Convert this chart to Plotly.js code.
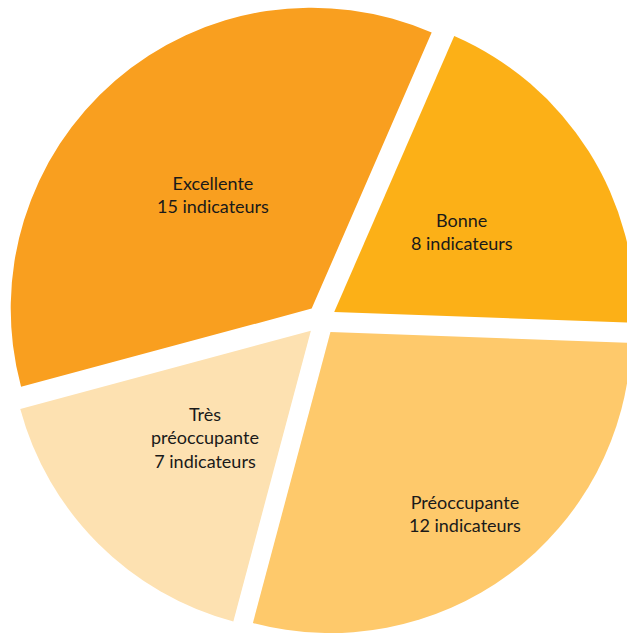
<!DOCTYPE html>
<html>
<head>
<meta charset="utf-8">
<script src="https://cdn.plot.ly/plotly-3.0.1.min.js"></script>
<style>
  html, body { margin: 0; padding: 0; overflow: hidden; background: #fff; }
  #chart { width: 643px; height: 640px; }
</style>
</head>
<body>
<div id="chart"></div>
<script>
// categories in drawing order (clockwise from the top)
var categories = ['Bonne', 'Préoccupante', 'Très<br>préoccupante', 'Excellente'];
var counts = [8, 12, 7, 15];
var sliceColors = ['#FCB017', '#FEC96B', '#FDE1B1', '#F99F1F'];
// how far out each label sits, as a share of the radius
var labelRadius = [0.55, 0.80, 0.55, 0.55];

var W = 643, H = 640;
var margin = { l: 0, r: 0, t: 4, b: 4 };
var rotation = 23.5;
var pull = 0.05;

var plotW = W - margin.l - margin.r;
var plotH = H - margin.t - margin.b;
var radius = Math.min(plotW, plotH) / 2 / (1 + pull);

var total = 0;
for (var i = 0; i < counts.length; i++) total += counts[i];

// labels go at the middle angle of each slice
var annotations = [];
var start = rotation;
for (var i = 0; i < counts.length; i++) {
  var sweep = counts[i] / total * 360;
  var mid = (start + sweep / 2) * Math.PI / 180;
  var d = labelRadius[i] * radius;
  var px = plotW / 2 + d * Math.sin(mid);
  var py = plotH / 2 - d * Math.cos(mid);
  annotations.push({
    xref: 'paper', yref: 'paper',
    x: px / plotW, y: 1 - py / plotH,
    xanchor: 'center', yanchor: 'middle',
    text: categories[i] + '<br>' + counts[i] + ' indicateurs',
    showarrow: false,
    font: { family: 'Lato, sans-serif', size: 18, color: '#1a1a1a' }
  });
  start += sweep;
}

var trace = {
  type: 'pie',
  values: counts,
  labels: categories,
  textinfo: 'none',
  sort: false,
  direction: 'clockwise',
  rotation: rotation,
  pull: pull,
  marker: { colors: sliceColors, line: { width: 0 } },
  hoverinfo: 'none',
  showlegend: false
};

var layout = {
  width: W,
  height: H,
  margin: margin,
  paper_bgcolor: '#ffffff',
  showlegend: false,
  annotations: annotations
};

Plotly.newPlot('chart', [trace], layout, { displayModeBar: false, staticPlot: true });
</script>
</body>
</html>
